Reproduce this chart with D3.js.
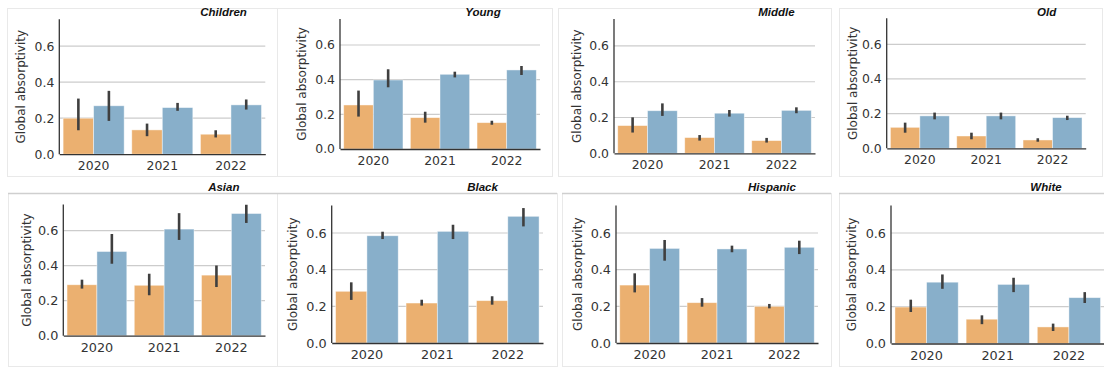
<!DOCTYPE html>
<html>
<head>
<meta charset="utf-8">
<script src="https://cdn.jsdelivr.net/npm/d3@7/dist/d3.min.js"></script>
<style>
  html, body { margin: 0; padding: 0; background: #ffffff; }
  svg { display: block; }
</style>
</head>
<body>
<svg id="chart" width="1104" height="368"></svg>
<script>
// ---------------- DATA ----------------
const categories = ["2020", "2021", "2022"];
const panelNames = ["Children", "Young", "Middle", "Old", "Asian", "Black", "Hispanic", "White"];
const yTicks = [0.0, 0.2, 0.4, 0.6];
const yLabel = "Global absorptivity";

// orange series (first bar of each year)
const orangeValues = [
  [0.200, 0.135, 0.111],
  [0.254, 0.181, 0.152],
  [0.155, 0.088, 0.071],
  [0.121, 0.071, 0.048],
  [0.291, 0.288, 0.346],
  [0.282, 0.218, 0.231],
  [0.316, 0.220, 0.200],
  [0.198, 0.132, 0.090]
];
const orangeLow = [
  [0.133, 0.100, 0.093],
  [0.187, 0.152, 0.140],
  [0.116, 0.071, 0.060],
  [0.090, 0.052, 0.038],
  [0.269, 0.231, 0.278],
  [0.235, 0.204, 0.209],
  [0.276, 0.198, 0.189],
  [0.171, 0.105, 0.068]
];
const orangeHigh = [
  [0.309, 0.170, 0.133],
  [0.337, 0.215, 0.163],
  [0.201, 0.102, 0.086],
  [0.148, 0.090, 0.058],
  [0.320, 0.354, 0.401],
  [0.331, 0.236, 0.255],
  [0.380, 0.245, 0.213],
  [0.238, 0.153, 0.108]
];
// blue series (second bar of each year)
const blueValues = [
  [0.269, 0.259, 0.274],
  [0.398, 0.431, 0.456],
  [0.238, 0.224, 0.240],
  [0.187, 0.187, 0.177],
  [0.481, 0.609, 0.698],
  [0.585, 0.609, 0.691],
  [0.516, 0.513, 0.522],
  [0.333, 0.321, 0.249]
];
const blueLow = [
  [0.185, 0.241, 0.248],
  [0.356, 0.413, 0.427],
  [0.209, 0.205, 0.224],
  [0.167, 0.167, 0.163],
  [0.411, 0.547, 0.644],
  [0.567, 0.567, 0.636],
  [0.449, 0.495, 0.485],
  [0.297, 0.279, 0.220]
];
const blueHigh = [
  [0.352, 0.285, 0.304],
  [0.460, 0.446, 0.479],
  [0.279, 0.242, 0.257],
  [0.206, 0.206, 0.188],
  [0.581, 0.700, 0.748],
  [0.607, 0.645, 0.736],
  [0.562, 0.531, 0.558],
  [0.375, 0.357, 0.279]
];

// ---------------- LAYOUT (positions only) ----------------
const layout = [
  { frame: [7, 8, 277, 176],    x0: 59.3,  x1: 265.3,  yTop: 19.2,  yBase: 154.2, labelX: 21,    titleX: 223.5, titleY: 16,  fs: 12.4, row: 0 },
  { frame: [277, 8, 552, 176],  x0: 340,   x1: 540,    yTop: 19,    yBase: 149,   labelX: 302,   titleX: 483,   titleY: 16,  fs: 12.4, row: 0 },
  { frame: [558, 8, 831, 176],  x0: 614,   x1: 815,    yTop: 19.1,  yBase: 153.3, labelX: 577,   titleX: 776.5, titleY: 16,  fs: 12.4, row: 0 },
  { frame: [839, 8, 1102, 176], x0: 886.7, x1: 1085.7, yTop: 18.3,  yBase: 148.3, labelX: 853,   titleX: 1046.7,titleY: 16,  fs: 12.4, row: 0 },
  { frame: [8, 193, 277, 366],  x0: 63.3,  x1: 265,    yTop: 204.4, yBase: 335.7, labelX: 26.7,  titleX: 223.8, titleY: 191, fs: 12.8, row: 1 },
  { frame: [277, 193, 557, 366],x0: 331.7, x1: 543,    yTop: 205.5, yBase: 343,   labelX: 293.3, titleX: 482.5, titleY: 191, fs: 12.8, row: 1 },
  { frame: [562, 193, 831, 366],x0: 616,   x1: 818,    yTop: 205.5, yBase: 343,   labelX: 578.3, titleX: 772,   titleY: 191, fs: 12.8, row: 1 },
  { frame: [839, 193, 1110, 366],x0: 891,  x1: 1104.5, yTop: 205.4, yBase: 343.5, labelX: 851.7, titleX: 1046,  titleY: 191, fs: 12.8, row: 1 }
];

const ORANGE = "#ebb070";
const BLUE = "#88afca";
const TEXT = "#333333";

const svg = d3.select("#chart");

panelNames.forEach((name, i) => {
  const L = layout[i];
  const g = svg.append("g");

  // panel frame
  const [fx0, fy0, fx1, fy1] = L.frame;
  g.append("rect")
    .attr("x", fx0 + 0.5).attr("y", fy0 + 0.5)
    .attr("width", fx1 - fx0).attr("height", fy1 - fy0)
    .attr("fill", "none").attr("stroke", "#e9e9e9").attr("stroke-width", 1);
  if (L.row === 1) {
    g.append("line")
      .attr("x1", fx0).attr("x2", fx1)
      .attr("y1", fy0 + 0.5).attr("y2", fy0 + 0.5)
      .attr("stroke", "#cfcfcf").attr("stroke-width", 1.3);
  }

  const x = d3.scaleBand().domain(categories).range([L.x0, L.x1]).paddingInner(0).paddingOuter(0);
  const sub = d3.scaleBand().domain(["a", "b"]).range([0, x.bandwidth()]).paddingOuter(0.125).paddingInner(0);
  const y = d3.scaleLinear().domain([0, 0.75]).range([L.yBase, L.yTop]);

  // gridlines
  g.append("g").selectAll("line").data(yTicks.filter(t => t > 0)).join("line")
    .attr("x1", L.x0).attr("x2", L.x1)
    .attr("y1", d => y(d)).attr("y2", d => y(d))
    .attr("stroke", "#cccccc").attr("stroke-width", 1.2);

  const rows = categories.map((c, k) => ({
    cat: c,
    a: { v: orangeValues[i][k], lo: orangeLow[i][k], hi: orangeHigh[i][k] },
    b: { v: blueValues[i][k], lo: blueLow[i][k], hi: blueHigh[i][k] }
  }));

  const series = [["a", ORANGE], ["b", BLUE]];
  series.forEach(([key, col]) => {
    g.append("g").selectAll("rect").data(rows).join("rect")
      .attr("x", d => x(d.cat) + sub(key))
      .attr("width", sub.bandwidth())
      .attr("y", d => y(d[key].v))
      .attr("height", d => y(0) - y(d[key].v))
      .attr("fill", col)
      .attr("stroke", "#ffffff").attr("stroke-opacity", 0.55).attr("stroke-width", 0.8);
  });
  series.forEach(([key]) => {
    g.append("g").selectAll("line").data(rows).join("line")
      .attr("x1", d => x(d.cat) + sub(key) + sub.bandwidth() / 2)
      .attr("x2", d => x(d.cat) + sub(key) + sub.bandwidth() / 2)
      .attr("y1", d => y(d[key].lo)).attr("y2", d => y(d[key].hi))
      .attr("stroke", "#3f3f3f").attr("stroke-width", 2.6);
  });

  // axes
  const yAxis = d3.axisLeft(y).tickValues(yTicks).tickFormat(d3.format(".1f")).tickSize(0).tickPadding(5);
  const ya = g.append("g").attr("transform", `translate(${L.x0},0)`).call(yAxis);
  ya.select(".domain").attr("stroke", TEXT).attr("stroke-width", 1.3).attr("d", `M0,${L.yTop}V${L.yBase}`);
  ya.selectAll("text").attr("fill", TEXT).attr("font-family", "DejaVu Sans").attr("font-size", L.fs);

  const xAxis = d3.axisBottom(x).tickSize(0).tickPadding(7);
  const xa = g.append("g").attr("transform", `translate(0,${L.yBase})`).call(xAxis);
  xa.select(".domain").attr("stroke", TEXT).attr("stroke-width", 1.3);
  xa.selectAll("text").attr("fill", TEXT).attr("font-family", "DejaVu Sans").attr("font-size", L.fs);

  // y label
  g.append("text")
    .attr("transform", `translate(${L.labelX},${(L.yTop + L.yBase) / 2}) rotate(-90)`)
    .attr("text-anchor", "middle").attr("dominant-baseline", "central")
    .attr("font-family", "DejaVu Sans").attr("font-size", 12).attr("fill", TEXT)
    .text(yLabel);

  // title
  g.append("text")
    .attr("x", L.titleX).attr("y", L.titleY)
    .attr("text-anchor", "middle")
    .attr("font-family", "Liberation Sans, Arial, sans-serif")
    .attr("font-weight", "bold").attr("font-style", "italic")
    .attr("font-size", 11.5).attr("fill", "#111111")
    .text(name);
});
</script>
</body>
</html>
